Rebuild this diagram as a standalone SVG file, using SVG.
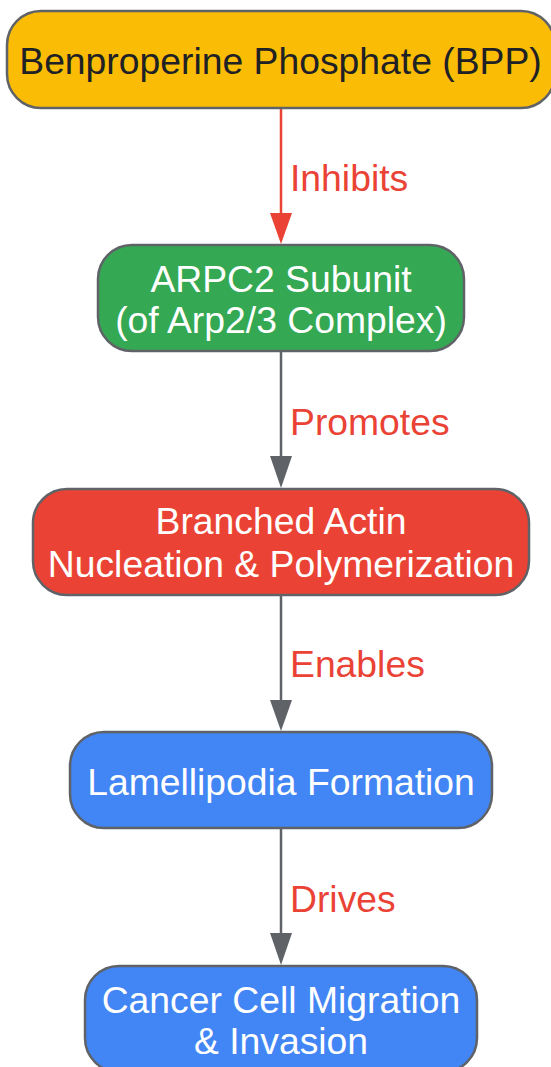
<svg xmlns="http://www.w3.org/2000/svg" width="551" height="1067" viewBox="0 0 551 1067">
<style>
.node{stroke:#5f6368;stroke-width:2.5}
.t{font-family:"Liberation Sans",Arial,sans-serif;font-size:37.3px;text-anchor:middle}
.w{fill:#ffffff}
.lbl{font-family:"Liberation Sans",Arial,sans-serif;font-size:37.3px;fill:#ea4335}
.edge{fill:none;stroke-width:2.5}
</style>
<rect width="551" height="1067" fill="#ffffff"/>
<g id="connectors">
<line class="edge" x1="281" y1="108" x2="281" y2="214" stroke="#ea4335"/>
<path d="M270,213 L292,213 L281,244 Z" fill="#ea4335"/>
<text class="lbl" x="290" y="191">Inhibits</text>
<line class="edge" x1="281" y1="351" x2="281" y2="457" stroke="#5f6368"/>
<path d="M270,456 L292,456 L281,488 Z" fill="#5f6368"/>
<text class="lbl" x="290" y="435">Promotes</text>
<line class="edge" x1="281" y1="595" x2="281" y2="701" stroke="#5f6368"/>
<path d="M270,700 L292,700 L281,731 Z" fill="#5f6368"/>
<text class="lbl" x="290" y="677">Enables</text>
<line class="edge" x1="281" y1="828" x2="281" y2="934" stroke="#5f6368"/>
<path d="M270,933 L292,933 L281,965 Z" fill="#5f6368"/>
<text class="lbl" x="290" y="912">Drives</text>
</g>
<g id="node-bpp">
<rect class="node" x="7" y="11" width="548" height="97" rx="34" fill="#fbbc05"/>
<text class="t" x="280.5" y="74" fill="#202124">Benproperine Phosphate (BPP)</text>
</g>
<g id="node-arpc2">
<rect class="node" x="98" y="245" width="366" height="106" rx="34" fill="#34a853"/>
<text class="t w" x="281" y="292">ARPC2 Subunit</text>
<text class="t w" x="281" y="333">(of Arp2/3 Complex)</text>
</g>
<g id="node-actin">
<rect class="node" x="33" y="489" width="496" height="106" rx="34" fill="#ea4335"/>
<text class="t w" x="281" y="534">Branched Actin</text>
<text class="t w" x="281" y="577">Nucleation &amp; Polymerization</text>
</g>
<g id="node-lamellipodia">
<rect class="node" x="70" y="732" width="422" height="96" rx="34" fill="#4285f4"/>
<text class="t w" x="281" y="795">Lamellipodia Formation</text>
</g>
<g id="node-migration">
<rect class="node" x="85" y="966" width="392" height="106" rx="34" fill="#4285f4"/>
<text class="t w" x="281" y="1013">Cancer Cell Migration</text>
<text class="t w" x="281" y="1054">&amp; Invasion</text>
</g>
</svg>
